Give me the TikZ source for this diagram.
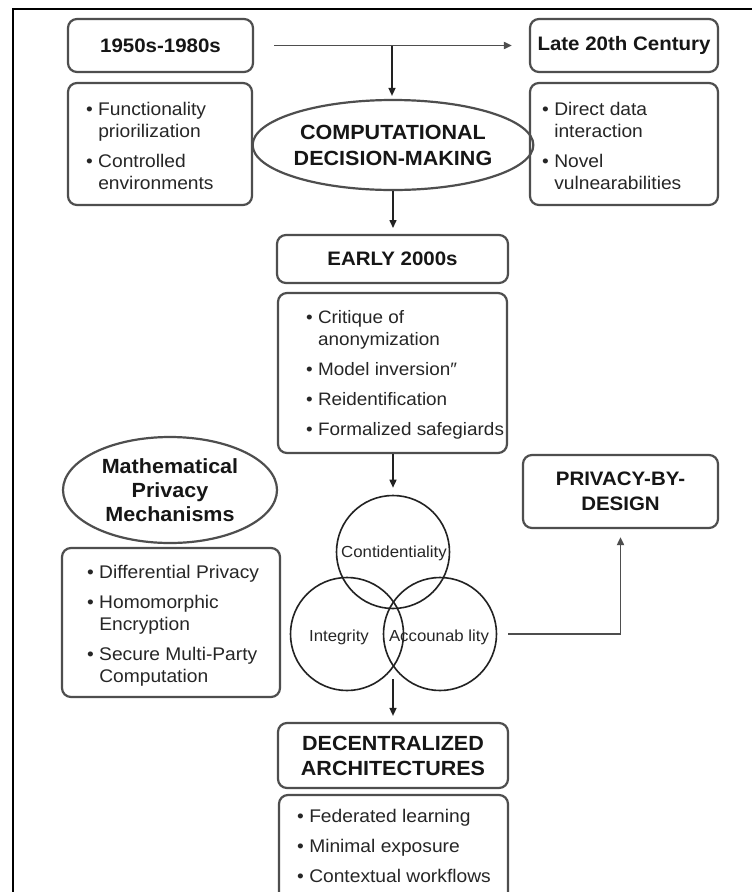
\documentclass[tikz,border=0pt]{standalone}
\usepackage{fontspec}
\setmainfont{Liberation Sans}[FakeStretch=1.05]
\usetikzlibrary{arrows.meta,shapes.geometric,calc}
\definecolor{boxgray}{HTML}{4E4E4E}
\definecolor{titlecol}{HTML}{161616}
\definecolor{bodycol}{HTML}{262626}
\definecolor{arrcol}{HTML}{222222}
\newcommand{\bl}{\textbullet\ }
\newcommand{\bi}{\phantom{\textbullet\ }}
\begin{document}
\begin{tikzpicture}[x=1pt,y=-1pt,
  hdr/.style={draw=boxgray,line width=2.2,rounded corners=9,inner sep=0,text=titlecol,align=center,
    font=\fontsize{19.5}{25}\selectfont\bfseries},
  bigtitle/.style={font=\fontsize{20.5}{25}\selectfont\bfseries},
  lbox/.style={draw=boxgray,line width=2.2,rounded corners=9,inner sep=0},
  ltext/.style={anchor=west,align=left,inner sep=0,text=bodycol,font=\fontsize{18.3}{22}\selectfont},
  ell/.style={ellipse,draw=boxgray,line width=2.2,inner sep=0,text=titlecol,align=center},
  venn/.style={circle,draw=arrcol,line width=1.6,inner sep=0,minimum size=113},
  vtext/.style={inner sep=0,text=bodycol,font=\fontsize{16}{18}\selectfont},
  arr/.style={draw=arrcol,line width=1.5,-{Triangle[length=8,width=7]}},
  hline/.style={draw=boxgray,line width=1.8,-{Triangle[length=8,width=7]}},
  frameline/.style={draw=black,line width=2.5}]
\clip (0,0) rectangle (752,892);
\fill[white] (0,0) rectangle (752,892);
% frame
\draw[frameline] (13,893) -- (13,9) -- (753,9);

% top row
\node[hdr,minimum width=185,minimum height=53] (y1950) at (160.5,45.5) {1950s-1980s};
\node[hdr,minimum width=188,minimum height=53] (late) at (624,45.5) {Late 20th Century};
\node[lbox,minimum width=184,minimum height=122] (l1) at (160,144) {};
\node[ltext] (l1t) at (86,146) {\bl Functionality\\\bi priorilization\\[8pt]\bl Controlled\\\bi environments};
\node[lbox,minimum width=188,minimum height=122] (r1) at (624,144) {};
\node[ltext] (r1t) at (542,146) {\bl Direct data\\\bi interaction\\[8pt]\bl Novel\\\bi vulnearabilities};

\node[ell,bigtitle,minimum width=256,minimum height=90,font=\fontsize{20.5}{26}\selectfont\bfseries] (comp) at (393,145) {COMPUTATIONAL\\DECISION-MAKING};

\coordinate (jn) at (392,46);
\draw[hline] ([xshift=20]y1950.east) -- ([xshift=-17]late.west);
\draw[arr,shorten >=3] (jn) -- (jn |- comp.north);
\draw[arr,shorten >=7] (comp.south) -- (comp.south |- 0,235);

% early 2000s
\node[hdr,minimum width=231,minimum height=48] (early) at (392.5,259) {EARLY 2000s};
\node[lbox,minimum width=229,minimum height=160] (e1) at (392.5,373) {};
\node[ltext,font=\fontsize{18}{22}\selectfont] (e1t) at (306,375) {\bl Critique of\\\bi anonymization\\[8pt]\bl Model inversion″\\[8pt]\bl Reidentification\\[8pt]\bl Formalized safegiards};

% math mechanisms
\node[ell,minimum width=214,minimum height=106,font=\fontsize{20.5}{24}\selectfont\bfseries] (math) at (170,490) {Mathematical\\Privacy\\Mechanisms};
\node[lbox,minimum width=218,minimum height=149] (m1) at (171,622.5) {};
\node[ltext] (m1t) at (87,626) {\bl Differential Privacy\\[8pt]\bl Homomorphic\\\bi Encryption\\[8pt]\bl Secure Multi-Party\\\bi Computation};

% venn
\node[venn] (conf) at (393,552) {};
\node[venn] (integ) at (347,634) {};
\node[venn] (acc) at (440,634) {};
\node[vtext] (conft) at (394,553) {Contidentiality};
\node[vtext] (integt) at (339,637) {Integrity};
\node[vtext] (acct) at (439,637) {Accounab lity};

\draw[arr,shorten >=7] (e1.south -| conf.north) -- (conf.north);

% privacy by design
\node[hdr,minimum width=195,minimum height=73] (pbd) at (620.5,491.5) {PRIVACY-BY-\\DESIGN};
\draw[hline,shorten >=8] ([xshift=11]acc.east) -| (pbd.south);

% decentralized
\coordinate (vb) at (393,679);
\node[hdr,bigtitle,minimum width=230,minimum height=65] (dec) at (393,755.5) {DECENTRALIZED\\ARCHITECTURES};
\draw[arr,shorten >=6] (vb) -- (vb |- dec.north);
\node[lbox,minimum width=229,minimum height=110] (d1) at (393.5,850) {};
\node[ltext] (d1t) at (297,846) {\bl Federated learning\\[8pt]\bl Minimal exposure\\[8pt]\bl Contextual workflows};
\end{tikzpicture}
\end{document}
